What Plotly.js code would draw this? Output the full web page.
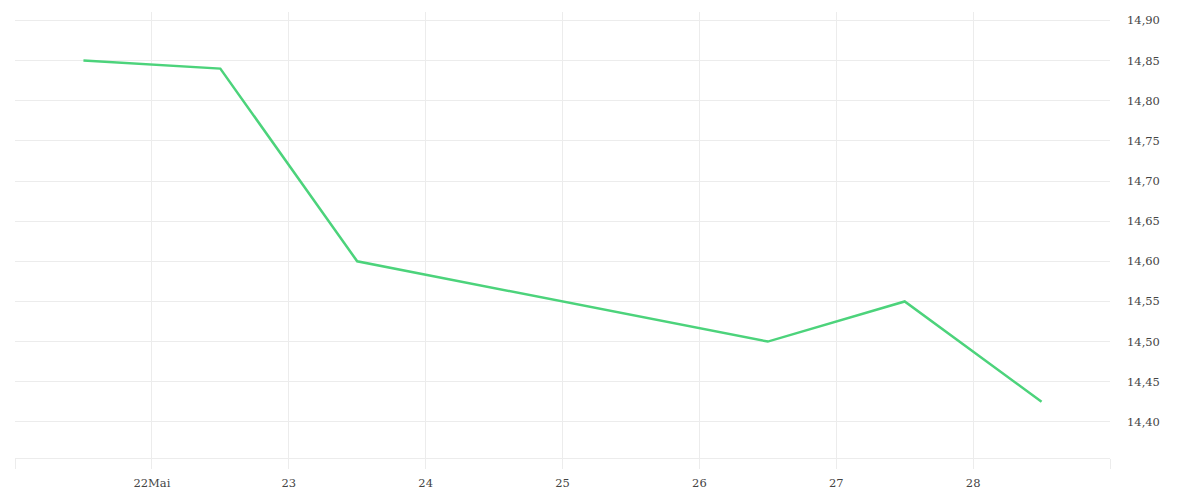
<!DOCTYPE html>
<html>
<head>
<meta charset="utf-8">
<script src="https://cdn.plot.ly/plotly-3.0.1.min.js"></script>
<style>html,body{margin:0;padding:0;background:#fff;}#chart{width:1200px;height:500px;}</style>
</head>
<body>
<div id="chart"></div>
<script>
const dates = ["2021-05-21 12:00", "2021-05-22 12:00", "2021-05-23 12:00", "2021-05-26 12:00", "2021-05-27 12:00", "2021-05-28 12:00"];
const prices = [14.85, 14.84, 14.60, 14.50, 14.55, 14.425];
const tickDates = ["2021-05-21", "2021-05-22", "2021-05-23", "2021-05-24", "2021-05-25", "2021-05-26", "2021-05-27", "2021-05-28", "2021-05-29"];
const tickLabels = ["", "22Mai", "23", "24", "25", "26", "27", "28", ""];
const yTicks = [14.40, 14.45, 14.50, 14.55, 14.60, 14.65, 14.70, 14.75, 14.80, 14.85, 14.90];

const fontFam = "DejaVu Serif, serif";
const trace = {
  x: dates, y: prices, type: "scatter", mode: "lines",
  line: {color: "#4cd37b", width: 2.5},
  hoverinfo: "x+y"
};
const layout = {
  width: 1200, height: 500,
  margin: {l: 15, r: 90, t: 12, b: 42},
  paper_bgcolor: "#fff", plot_bgcolor: "#fff",
  separators: ",.",
  showlegend: false,
  font: {family: fontFam, size: 11.5, color: "#444"},
  xaxis: {
    type: "date",
    range: ["2021-05-21", "2021-05-29"],
    tickmode: "array", tickvals: tickDates, ticktext: tickLabels,
    showgrid: true, gridcolor: "#ececec", gridwidth: 1,
    ticks: "outside", ticklen: 10, tickcolor: "#ececec", tickwidth: 1,
    ticklabelstandoff: 4,
    showline: true, linecolor: "#ececec", linewidth: 1,
    zeroline: false,
    tickfont: {family: fontFam, size: 11.5, color: "#444"}
  },
  yaxis: {
    side: "right",
    range: [14.355, 14.9105],
    tickmode: "array", tickvals: yTicks,
    tickformat: ".2f",
    showgrid: true, gridcolor: "#ececec", gridwidth: 1,
    ticks: "", ticklabelstandoff: 16, ticklabelshift: -1.5,
    showline: false, zeroline: false,
    tickfont: {family: fontFam, size: 11.5, color: "#444"}
  }
};
Plotly.newPlot("chart", [trace], layout, {displayModeBar: false});
</script>
</body>
</html>
